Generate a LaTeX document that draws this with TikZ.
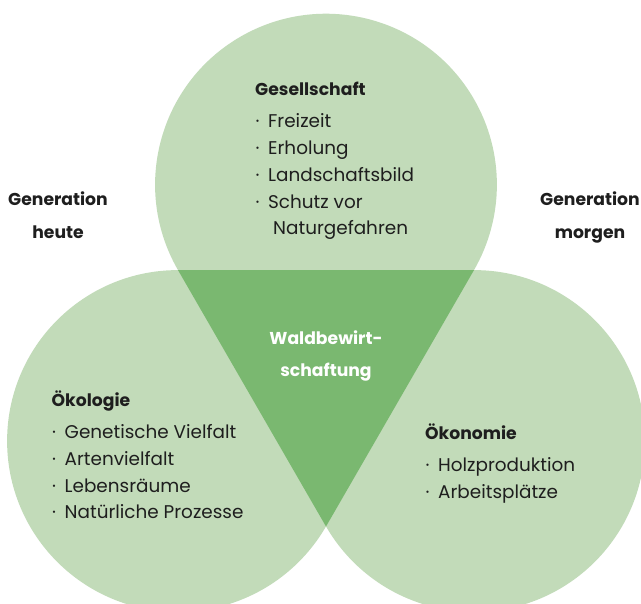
\documentclass[tikz,border=0pt]{standalone}
\usepackage{fontspec}
\setmainfont{Poppins}

\definecolor{leaf}{HTML}{C2DBB9}
\definecolor{forest}{HTML}{7AB870}
\definecolor{ink}{HTML}{1E1E1E}

\newcommand{\dotitem}{\makebox[13pt][l]{\hspace{0.5pt}·}}

\tikzset{
	head/.style = {anchor = base west, inner sep = 0, font = \fontsize{17.2}{20}\selectfont\bfseries, text = ink},
	item/.style = {anchor = base west, inner sep = 0, font = \fontsize{18.4}{21}\selectfont, text = ink},
	side/.style = {anchor = base, inner sep = 0, font = \fontsize{17.2}{20}\selectfont\bfseries, text = ink}
}

\begin{document}
\begin{tikzpicture}[x = 1pt, y = 1pt]

	% Definition
	
	\def\R{170.9};
	
	\useasboundingbox (0, 0) rectangle (641, 604);
	
	\coordinate (L) at (178, 163);
	\coordinate (R) at (474, 163);
	\coordinate (T) at (326, 419.3);
	\coordinate (A) at (178, 333.9);
	\coordinate (B) at (474, 333.9);
	\coordinate (C) at (326, 77.5);
	
	% Drop shapes
	
	\fill [leaf] (A) arc [start angle = 210, end angle = -30, radius = \R] -- (C) -- cycle;
	\fill [leaf] (A) arc [start angle = 90, end angle = 330, radius = \R] -- (B) -- cycle;
	\fill [leaf] (B) arc [start angle = 90, end angle = -150, radius = \R] -- (A) -- cycle;
	
	% Common triangle
	
	\fill [forest] (A) -- (B) -- (C) -- cycle;
	
	% Texts
	
	\node [side, text = white] (wald1) at (326, 259) {Waldbewirt-};
	\node [side, text = white] (wald2) at (326, 227.3) {schaftung};
	
	\node [side] (heute1) at (58, 398) {Generation};
	\node [side] (heute2) at (58, 365) {heute};
	\node [side] (morgen1) at (590, 398) {Generation};
	\node [side] (morgen2) at (590, 365) {morgen};
	
	\node [head] (ges) at (255, 508) {Gesellschaft};
	\foreach \i/\txt in {1/Freizeit, 2/Erholung, 3/Landschaftsbild, 4/Schutz vor}
		\node [item] (ges-\i) at (255, {508 - 5.3 - 26.7 * \i}) {\dotitem\txt};
	\node [item] (ges-5) at (255, {508 - 5.3 - 26.7 * 5}) {\hspace{18pt}Naturgefahren};
	
	\node [head] (oeko) at (51.5, 197.3) {Ökologie};
	\foreach \i/\txt in {1/Genetische Vielfalt, 2/Artenvielfalt, 3/Lebensräume, 4/Natürliche Prozesse}
		\node [item] (oeko-\i) at (51.5, {197.3 - 5.3 - 26.7 * \i}) {\dotitem\txt};
	
	\node [head] (oekn) at (425, 164) {Ökonomie};
	\foreach \i/\txt in {1/Holzproduktion, 2/Arbeitsplätze}
		\node [item] (oekn-\i) at (425, {164 - 5.3 - 26.7 * \i}) {\dotitem\txt};

\end{tikzpicture}
\end{document}
